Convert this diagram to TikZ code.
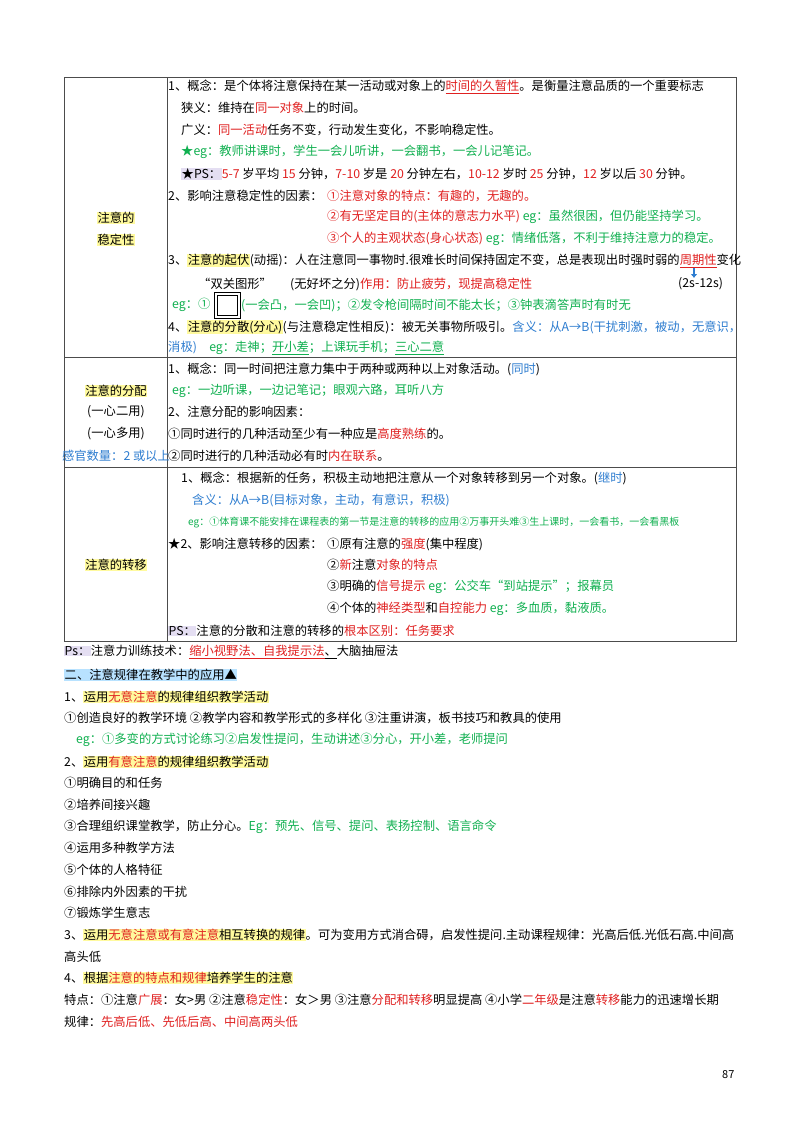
\documentclass[tikz,border=0pt]{standalone}
\usepackage{fontspec}
\usetikzlibrary{arrows.meta}
\setmainfont{Noto Sans CJK SC}
\definecolor{cred}{HTML}{E02020}
\definecolor{cgreen}{HTML}{10B050}
\definecolor{cblue}{HTML}{2E7DD0}
\definecolor{hyel}{HTML}{FFFA9E}
\definecolor{hlav}{HTML}{E4DEF2}
\definecolor{hcy}{HTML}{B8E2FF}
\newcommand{\cR}[1]{\textcolor{cred}{#1}}
\newcommand{\cG}[1]{\textcolor{cgreen}{#1}}
\newcommand{\cB}[1]{\textcolor{cblue}{#1}}
\newcommand{\hY}[1]{{\setlength{\fboxsep}{0.5pt}\colorbox{hyel}{#1}}}
\newcommand{\hP}[1]{{\setlength{\fboxsep}{0.5pt}\colorbox{hlav}{#1}}}
\newcommand{\hC}[1]{{\setlength{\fboxsep}{0.5pt}\colorbox{hcy}{#1}}}
\newcommand{\uR}[1]{\textcolor{cred}{\underline{#1}}}
\begin{document}
\begin{tikzpicture}[x=1pt,y=-1pt,
  t/.style={anchor=west,inner sep=0pt,font=\fontsize{12.3}{14}\selectfont},
  tc/.style={anchor=center,inner sep=0pt,font=\fontsize{12.3}{14}\selectfont},
  ts/.style={anchor=west,inner sep=0pt,font=\fontsize{10}{12}\selectfont},
  grid/.style={draw=black!70,line width=0.6pt}]
\useasboundingbox (0,0) rectangle (800,1130);
\fill[white] (0,0) rectangle (800,1130);
% table
\draw[grid] (64,77) rectangle (736,641);
\draw[grid] (167,77) -- (167,641);
\draw[grid] (64,357) -- (736,357);
\draw[grid] (64,467) -- (736,467);
% row 1
\node[tc] (s1) at (116,218) {\hY{注意的}};
\node[tc] (s2) at (116,240) {\hY{稳定性}};
\node[t] (a1) at (168,87) {1、概念：是个体将注意保持在某一活动或对象上的\uR{时间的久暂性}。是衡量注意品质的一个重要标志};
\node[t] (a2) at (181,108) {狭义：维持在\cR{同一对象}上的时间。};
\node[t] (a3) at (181,130) {广义：\cR{同一活动}任务不变，行动发生变化，不影响稳定性。};
\node[t] (a4) at (181,152) {\cG{★eg：教师讲课时，学生一会儿听讲，一会翻书，一会儿记笔记。}};
\node[t] (a5) at (181,174) {\hP{★PS：}\cR{5-7} 岁平均 \cR{15} 分钟，\cR{7-10} 岁是 \cR{20} 分钟左右，\cR{10-12} 岁时 \cR{25} 分钟，\cR{12} 岁以后 \cR{30} 分钟。};
\node[t] (a6) at (168,196) {2、影响注意稳定性的因素：};
\node[t] (a7) at (327,196) {\cR{①注意对象的特点：有趣的，无趣的。}};
\node[t] (a8) at (327,217) {\cR{②有无坚定目的(主体的意志力水平)} \cG{eg：虽然很困，但仍能坚持学习。}};
\node[t] (a9) at (327,239) {\cR{③个人的主观状态(身心状态)} \cG{eg：情绪低落，不利于维持注意力的稳定。}};
\node[t] (a10) at (168,261) {3、\hY{注意的起伏}(动摇)：人在注意同一事物时.很难长时间保持固定不变，总是表现出时强时弱的\uR{周期性}变化};
\node[t] (a11) at (198,284) {“双关图形”};
\node[t] (a12) at (290,284) {(无好坏之分)\cR{作用：防止疲劳，现提高稳定性}};
\node[t] (a13) at (678,284) {(2s-12s)};
\coordinate (arT) at (694,268);
\coordinate (arB) at (694,278);
\draw[cblue,line width=2.2pt,-{Latex[length=4pt,width=7pt]}] (arT) -- (arB);
\node[t] (a14) at (172,305) {\cG{eg：①}};
\node[draw,line width=1pt,minimum size=26pt,inner sep=0pt] (bx) at (227,305) {};
\node[draw,line width=0.8pt,minimum size=20pt,inner sep=0pt] (bx2) at (227,305) {};
\node[t] (a15) at (241,305) {\cG{(一会凸，一会凹)；②发令枪间隔时间不能太长；③钟表滴答声时有时无}};
\node[t] (a16) at (168,327) {4、\hY{注意的分散(分心)}(与注意稳定性相反)：被无关事物所吸引。\cB{含义：从A→B(干扰刺激，被动，无意识，}};
\node[t] (a17) at (168,348) {\cB{消极)}\quad \cG{eg：走神；\underline{开小差}；上课玩手机；\underline{三心二意}}};
% row 2
\node[tc] (f1) at (116,391) {\hY{注意的分配}};
\node[tc] (f2) at (116,412) {(一心二用)};
\node[tc] (f3) at (116,434) {(一心多用)};
\node[tc] (f4) at (116,456) {\cB{感官数量：2 或以上}};
\node[t] (b1) at (168,369) {1、概念：同一时间把注意力集中于两种或两种以上对象活动。(\cB{同时})};
\node[t] (b2) at (172,391) {\cG{eg：一边听课，一边记笔记；眼观六路，耳听八方}};
\node[t] (b3) at (168,412) {2、注意分配的影响因素：};
\node[t] (b4) at (168,434) {①同时进行的几种活动至少有一种应是\cR{高度熟练}的。};
\node[t] (b5) at (168,456) {②同时进行的几种活动必有时\cR{内在联系}。};
% row 3
\node[tc] (z1) at (116,565) {\hY{注意的转移}};
\node[t] (c1) at (181,478) {1、概念：根据新的任务，积极主动地把注意从一个对象转移到另一个对象。(\cB{继时})};
\node[t] (c2) at (192,500) {\cB{含义：从A→B(目标对象，主动，有意识，积极)}};
\node[ts] (c3) at (188,522) {\cG{eg：①体育课不能安排在课程表的第一节是注意的转移的应用②万事开头难③生上课时，一会看书，一会看黑板}};
\node[t] (c4) at (168,544) {★2、影响注意转移的因素：};
\node[t] (c5) at (327,544) {①原有注意的\cR{强度}(集中程度)};
\node[t] (c6) at (327,565) {②\cR{新}注意\cR{对象的特点}};
\node[t] (c7) at (327,587) {③明确的\cR{信号提示} \cG{eg：公交车“到站提示”；报幕员}};
\node[t] (c8) at (327,609) {④个体的\cR{神经类型}和\cR{自控能力} \cG{eg：多血质，黏液质。}};
\node[t] (c9) at (168,631) {\hP{PS：}注意的分散和注意的转移的\cR{根本区别：任务要求}};
% below
\node[t] (d1) at (64,652) {\hP{Ps：}注意力训练技术：\uR{缩小视野法、自我提示法}\underline{、}大脑抽屉法};
\node[t] (d2) at (64,675) {\hC{二、注意规律在教学中的应用▲}};
\node[t] (d3) at (64,697) {1、\hY{运用\cR{无意注意}的规律组织教学活动}};
\node[t] (d4) at (64,718) {①创造良好的教学环境 ②教学内容和教学形式的多样化 ③注重讲演，板书技巧和教具的使用};
\node[t] (d5) at (76,740) {\cG{eg：①多变的方式讨论练习②启发性提问，生动讲述③分心，开小差，老师提问}};
\node[t] (d6) at (64,762) {2、\hY{运用\cR{有意注意}的规律组织教学活动}};
\node[t] (d7) at (64,783) {①明确目的和任务};
\node[t] (d8) at (64,805) {②培养间接兴趣};
\node[t] (d9) at (64,827) {③合理组织课堂教学，防止分心。\cG{Eg：预先、信号、提问、表扬控制、语言命令}};
\node[t] (d10) at (64,848) {④运用多种教学方法};
\node[t] (d11) at (64,870) {⑤个体的人格特征};
\node[t] (d12) at (64,892) {⑥排除内外因素的干扰};
\node[t] (d13) at (64,913) {⑦锻炼学生意志};
\node[t] (d14) at (64,935) {3、\hY{运用\cR{无意注意或有意注意}相互转换的规律}。可为变用方式消合碍，启发性提问.主动课程规律：光高后低.光低石高.中间高};
\node[t] (d15) at (64,957) {高头低};
\node[t] (d16) at (64,978) {4、\hY{根据\cR{注意的特点和规律}培养学生的注意}};
\node[t] (d17) at (64,1000) {特点：①注意\cR{广展}：女>男 ②注意\cR{稳定性}：女＞男 ③注意\cR{分配和转移}明显提高 ④小学\cR{二年级}是注意\cR{转移}能力的迅速增长期};
\node[t] (d18) at (64,1022) {规律：\cR{先高后低、先低后高、中间高两头低}};
\node[t,font=\fontsize{11}{13}\selectfont] (pg) at (722,1075) {87};
\end{tikzpicture}
\end{document}
